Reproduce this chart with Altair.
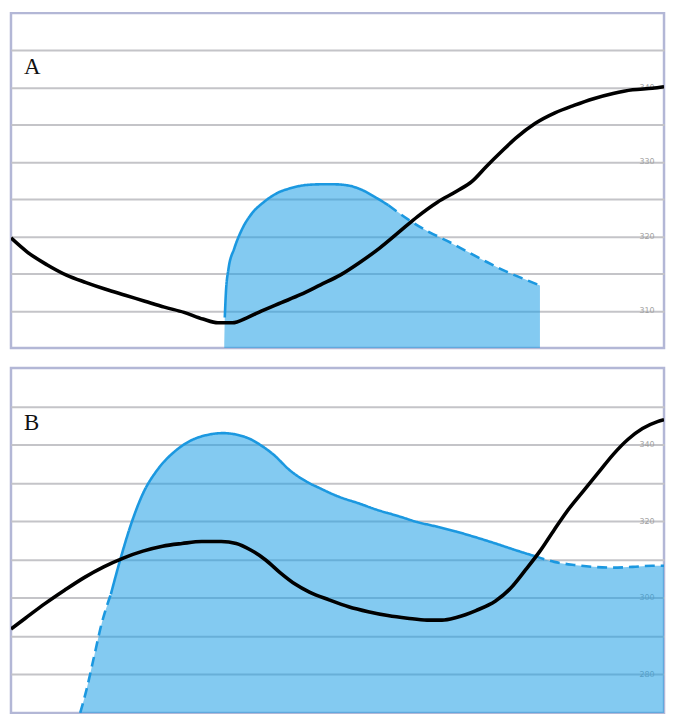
import altair as alt
import pandas as pd

# ---------------- data ----------------
A_LINE_X = [0, 2.5, 5.5, 8.5, 11.5, 14.5, 17.5, 20.5, 23.5, 26.5, 29.4, 31.7, 33.9, 36.2, 38.4, 41.4, 44.4, 47.4, 50.4,
            53.4, 56.4, 59.3, 62.3, 65.3, 68.3, 70.6, 72.8, 75.0, 77.3, 80.3, 83.3, 86.2, 89.2, 92.2, 95.2, 98.2, 100]
A_LINE_Y = [319.8, 317.9, 316.2, 314.8, 313.8, 312.9, 312.1, 311.3, 310.5, 309.8, 308.9, 308.4, 308.4, 309.1, 310.0,
            311.1, 312.2, 313.5, 314.8, 316.5, 318.4, 320.5, 322.7, 324.6, 326.1, 327.4, 329.4, 331.3, 333.2, 335.2,
            336.6, 337.6, 338.5, 339.2, 339.7, 339.9, 340.1]
A_AREA_X = [32.66, 32.74, 32.9, 33.3, 34.2, 35.4, 36.9, 38.7, 40.7, 42.9, 45.1, 47.4, 49.6, 51.9, 54.1, 56.1, 57.8,
            60.8, 63.8, 66.8, 69.8, 72.8, 75.8, 78.8, 81.0]
A_AREA_Y = [305.0, 309.1, 312.3, 315.6, 318.4, 321.0, 323.1, 324.6, 325.8, 326.5, 326.9, 327.0, 327.0, 326.8, 326.1,
            325.1, 324.2, 322.3, 320.7, 319.4, 318.0, 316.6, 315.3, 314.2, 313.4]
# outline pieces: (from x, to x, style)
A_OUTLINE = [(32.74, 57.8, "solid"), (57.8, 81.0, "dashed")]
A_DOMAIN = [305, 350]
A_GRID = [310, 315, 320, 325, 330, 335, 340, 345]
A_TICKS = [340, 330, 320, 310]

B_LINE_X = [0, 2.2, 5.2, 8.2, 11.2, 14.2, 17.2, 20.2, 23.2, 26.2, 29.2, 32.2, 34.5, 36.7, 39.0, 41.2, 43.5, 45.7,
            48.7, 51.7, 54.7, 57.7, 60.7, 63.7, 66.0, 68.2, 71.2, 74.2, 76.5, 78.7, 81.0, 83.2, 85.5, 87.7, 90.0,
            92.2, 94.5, 96.7, 99.0, 100]
B_LINE_Y = [291.9, 294.7, 298.5, 302.0, 305.3, 308.1, 310.4, 312.2, 313.5, 314.2, 314.7, 314.7, 314.2, 312.5, 309.9,
            306.6, 303.6, 301.5, 299.5, 297.7, 296.4, 295.4, 294.7, 294.2, 294.2, 294.9, 296.7, 299.2, 302.5, 307.1,
            312.2, 317.8, 323.4, 328.0, 332.8, 337.4, 341.4, 344.2, 346.0, 346.5]
B_AREA_X = [10.6, 11.5, 12.7, 13.9, 15.3, 16.8, 18.4, 20.2, 22.5, 25.2, 27.7, 30.0, 32.5, 34.8, 36.7, 38.2, 40.2,
            42.7, 45.3, 47.2, 50.2, 53.2, 56.2, 59.2, 62.2, 65.2, 68.2, 71.2, 74.2, 77.2, 80.2, 83.2, 86.2, 89.2,
            92.2, 95.2, 98.2, 100]
B_AREA_Y = [270.0, 275.6, 284.5, 293.4, 301.0, 310.4, 319.3, 327.2, 333.6, 338.4, 341.2, 342.5, 343.0, 342.5, 341.4,
            339.9, 337.4, 333.3, 330.3, 328.7, 326.4, 324.7, 322.9, 321.4, 319.8, 318.6, 317.3, 315.8, 314.2, 312.5,
            310.9, 309.4, 308.6, 308.1, 307.9, 308.1, 308.4, 308.4]
B_OUTLINE = [(10.6, 15.3, "dashed"), (15.3, 80.2, "solid"), (80.2, 100, "dashed")]
B_DOMAIN = [270, 360]
B_GRID = [280, 290, 300, 310, 320, 330, 340, 350]
B_TICKS = [340, 320, 300, 280]

PANEL_LETTERS = ["A", "B"]
LETTER_POS = [(2.0, 342.8), (2.0, 345.5)]

BLUE_FILL = "#1e9fe6"
BLUE_LINE = "#1b98e0"


def panel(line_x, line_y, area_x, area_y, outline, domain, grid, ticks, letter, lpos, height):
    xs = alt.Scale(domain=[0, 100], nice=False, zero=False)
    ys = alt.Scale(domain=domain, nice=False, zero=False)
    tick_list = ",".join(str(t) for t in ticks)
    yaxis = alt.Axis(orient="right", values=grid, grid=True, gridColor="#c4c4c8", gridWidth=2,
                     domain=False, ticks=False, title=None,
                     labelExpr=f"indexof([{tick_list}], datum.value) >= 0 ? datum.label : ''",
                     labelPadding=-10, labelAlign="right", labelColor="#a0a0a0", labelFontSize=8,
                     labelFont="DejaVu Sans")

    line_df = pd.DataFrame({"x": line_x, "y": line_y})
    area_df = pd.DataFrame({"x": area_x, "y": area_y})

    rows = []
    for i, (x0, x1, style) in enumerate(outline):
        for xv, yv in zip(area_x, area_y):
            if x0 <= xv <= x1:
                rows.append({"x": xv, "y": yv, "seg": i, "style": style})
    out_df = pd.DataFrame(rows)

    base_grid = alt.Chart(line_df).mark_line(opacity=0).encode(
        x=alt.X("x:Q", scale=xs, axis=None),
        y=alt.Y("y:Q", scale=ys, axis=yaxis),
    )

    area = alt.Chart(area_df).mark_area(color=BLUE_FILL, opacity=0.55, interpolate="monotone",
                                        clip=True).encode(
        x=alt.X("x:Q", scale=xs, axis=None),
        y=alt.Y("y:Q", scale=ys, axis=yaxis),
        y2=alt.datum(domain[0]),
    )

    outline_chart = alt.Chart(out_df).mark_line(color=BLUE_LINE, strokeWidth=2.6, interpolate="monotone",
                                                clip=True).encode(
        x=alt.X("x:Q", scale=xs, axis=None),
        y=alt.Y("y:Q", scale=ys, axis=yaxis),
        detail="seg:N",
        strokeDash=alt.StrokeDash("style:N", scale=alt.Scale(domain=["solid", "dashed"],
                                                              range=[[1, 0], [10, 6]]), legend=None),
    )

    line = alt.Chart(line_df).mark_line(color="#000000", strokeWidth=3.6, interpolate="monotone",
                                        clip=True).encode(
        x=alt.X("x:Q", scale=xs, axis=None),
        y=alt.Y("y:Q", scale=ys, axis=yaxis),
    )

    text_df = pd.DataFrame({"t": [letter], "x": [lpos[0]], "y": [lpos[1]]})
    label = alt.Chart(text_df).mark_text(align="left", baseline="middle", font="Liberation Serif",
                                         fontSize=23, color="#111111").encode(
        x=alt.X("x:Q", scale=xs, axis=None),
        y=alt.Y("y:Q", scale=ys, axis=yaxis),
        text="t:N",
    )

    return alt.layer(base_grid, area, outline_chart, line, label).properties(width=657, height=height)


pa = panel(A_LINE_X, A_LINE_Y, A_AREA_X, A_AREA_Y, A_OUTLINE, A_DOMAIN, A_GRID, A_TICKS,
           PANEL_LETTERS[0], LETTER_POS[0], 337)
pb = panel(B_LINE_X, B_LINE_Y, B_AREA_X, B_AREA_Y, B_OUTLINE, B_DOMAIN, B_GRID, B_TICKS,
           PANEL_LETTERS[1], LETTER_POS[1], 347)

chart = alt.vconcat(pa, pb, spacing=16).properties(
    padding={"left": 1, "top": 1, "right": 1, "bottom": 1},
    background="#ffffff",
).configure_view(stroke="#b3b7d6", strokeWidth=2.5)

chart.save("out.html", embed_options={"renderer": "svg", "actions": False})
